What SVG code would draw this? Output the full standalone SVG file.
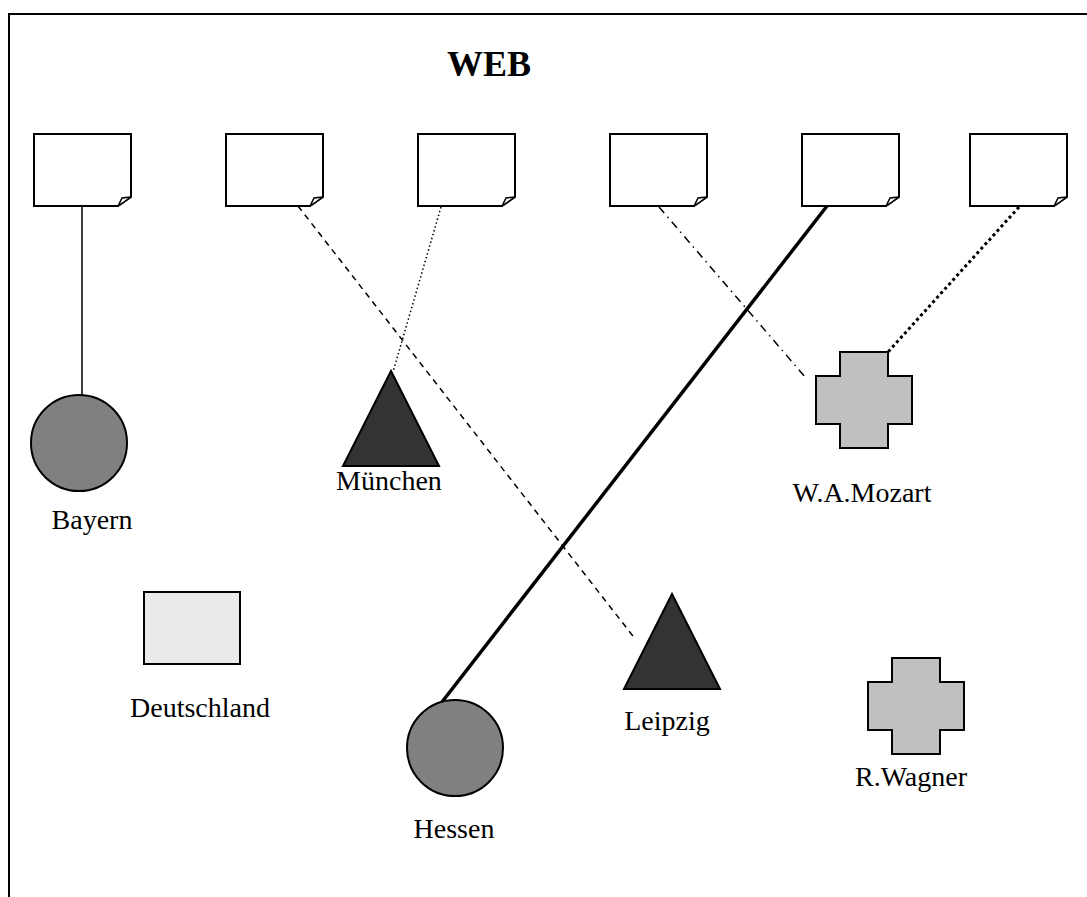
<svg xmlns="http://www.w3.org/2000/svg" width="1087" height="897" viewBox="0 0 1087 897">
  <style>
    .frame { fill: none; stroke: #000; stroke-width: 2; }
    .doc { fill: #fff; stroke: #000; stroke-width: 2; stroke-linejoin: miter; }
    .curl { fill: #fff; stroke: #000; stroke-width: 1.5; }
    .shape { stroke: #000; stroke-width: 2; }
    .label { font-family: "Liberation Serif", "Times New Roman", serif; font-size: 28px; fill: #000; text-anchor: middle; }
    .title { font-family: "Liberation Serif", "Times New Roman", serif; font-size: 36px; font-weight: bold; fill: #000; text-anchor: middle; }
    .ln { fill: none; stroke: #000; }
  </style>
  <defs>
    <!-- page icon with a curled lower-right corner, 97 x 72 -->
    <g id="page">
      <path class="doc" d="M0,0 H97 V63 L84,72 H0 Z"/>
      <path class="curl" d="M84,72 L88,64 L97,63 Z"/>
    </g>
    <!-- cross / plus shape, 96 x 96 -->
    <path id="cross" d="M24,0 H72 V24 H96 V72 H72 V96 H24 V72 H0 V24 H24 Z"/>
  </defs>

  <rect width="1087" height="897" fill="#fff"/>

  <!-- open frame: top and left edges only -->
  <path class="frame" d="M9,897 V14 H1087"/>

  <text class="title" x="489" y="76">WEB</text>

  <!-- connectors -->
  <g id="connectors">
    <line class="ln" x1="82" y1="206" x2="82" y2="396" stroke-width="1.5"/>
    <line class="ln" x1="298" y1="206" x2="636" y2="640" stroke-width="1.5" stroke-dasharray="6,5"/>
    <line class="ln" x1="441" y1="207" x2="393" y2="372" stroke-width="1.5" stroke-dasharray="1.5,2.5"/>
    <line class="ln" x1="659" y1="207" x2="806" y2="378" stroke-width="1.5" stroke-dasharray="8,5,1.5,5"/>
    <line class="ln" x1="827" y1="206" x2="442" y2="702" stroke-width="3.5"/>
    <line class="ln" x1="1019" y1="207" x2="888" y2="352" stroke-width="3" stroke-dasharray="3,3"/>
  </g>

  <!-- web pages -->
  <g id="page1"><use href="#page" x="34" y="134"/></g>
  <g id="page2"><use href="#page" x="226" y="134"/></g>
  <g id="page3"><use href="#page" x="418" y="134"/></g>
  <g id="page4"><use href="#page" x="610" y="134"/></g>
  <g id="page5"><use href="#page" x="802" y="134"/></g>
  <g id="page6"><use href="#page" x="970" y="134"/></g>

  <!-- entities -->
  <g id="bayern">
    <circle class="shape" cx="79" cy="443" r="48" fill="#808080"/>
    <text class="label" x="92" y="529">Bayern</text>
  </g>
  <g id="muenchen">
    <path class="shape" d="M391,371 L439,466 H343 Z" fill="#333333"/>
    <text class="label" x="389" y="490">München</text>
  </g>
  <g id="mozart">
    <use href="#cross" x="816" y="352" class="shape" fill="#c0c0c0"/>
    <text class="label" x="862" y="502">W.A.Mozart</text>
  </g>
  <g id="deutschland">
    <rect class="shape" x="144" y="592" width="96" height="72" fill="#eaeaea"/>
    <text class="label" x="200" y="717">Deutschland</text>
  </g>
  <g id="leipzig">
    <path class="shape" d="M672,594 L720,689 H624 Z" fill="#333333"/>
    <text class="label" x="667" y="730">Leipzig</text>
  </g>
  <g id="hessen">
    <circle class="shape" cx="455" cy="748" r="48" fill="#808080"/>
    <text class="label" x="454" y="838">Hessen</text>
  </g>
  <g id="wagner">
    <use href="#cross" x="868" y="658" class="shape" fill="#c0c0c0"/>
    <text class="label" x="911" y="786">R.Wagner</text>
  </g>
</svg>
